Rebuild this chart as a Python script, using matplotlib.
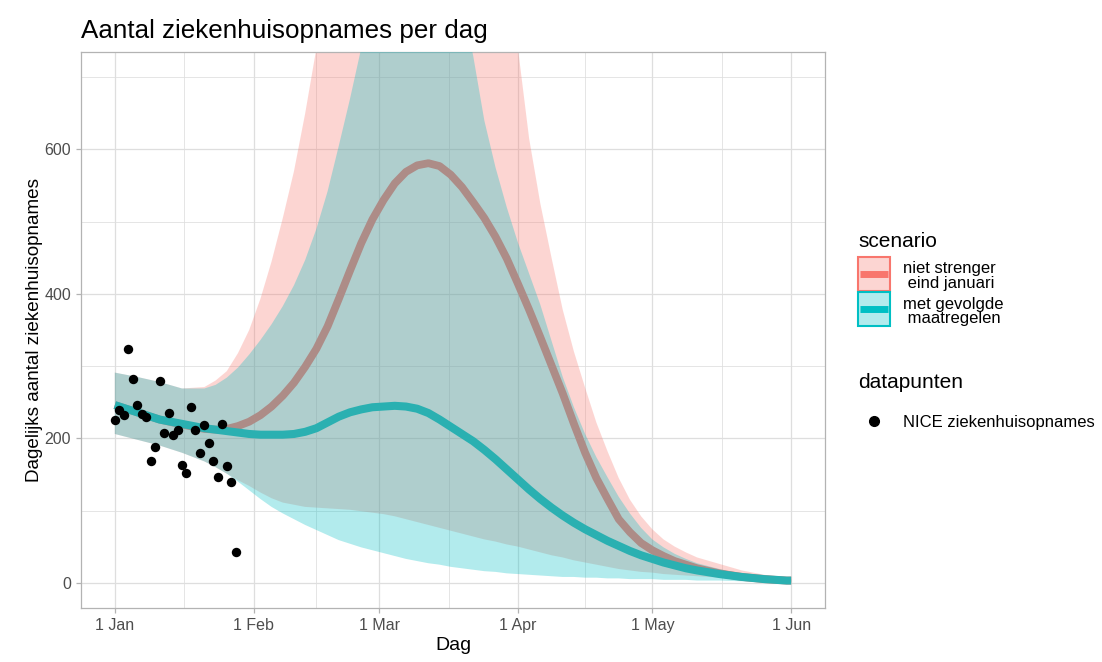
import numpy as np
import matplotlib
matplotlib.use("Agg")
import matplotlib.pyplot as plt
from matplotlib.patches import Patch, Rectangle
from matplotlib.lines import Line2D
from matplotlib.legend_handler import HandlerBase
from matplotlib.colors import to_rgba

plt.rcParams['font.family'] = ['Liberation Sans', 'DejaVu Sans']

# ---------------- data ----------------
start = np.datetime64('2021-01-01')

# NICE observations (days since 1 Jan)
obs_day = list(range(28))
obs_val = [226, 239, 232, 323, 282, 246, 233, 230, 168, 188, 279, 207, 235, 204,
           212, 163, 152, 243, 212, 180, 219, 193, 168, 147, 220, 161, 140, 43]

# model output (days since 1 Jan)
model_day = [0, 5, 10, 15] + [20 + 2.5 * i for i in range(45)] + [135, 140, 145, 150, 151]

red_mid = [246, 236, 226, 219,
           213, 212, 213, 217, 223, 232, 244, 259, 277, 299, 324, 355, 393, 432, 470,
           503, 530, 553, 569, 578, 581, 577, 565, 548, 527, 505, 479, 449, 414, 378,
           340, 301, 262, 220, 180, 145, 116, 88, 70, 55, 45, 37, 30, 25, 20,
           13, 8, 5, 3, 3]
red_lo = [206, 198, 190, 180,
          168, 160, 151, 142, 134, 125, 117, 111, 108, 105, 104, 103, 102, 101, 99,
          97, 95, 92, 88, 84, 80, 76, 72, 68, 64, 60, 57, 53, 50, 46,
          42, 38, 35, 31, 28, 25, 22, 19, 17, 15, 14, 12, 11, 10, 9,
          7, 5, 4, 3, 3]
red_hi = [291, 285, 278, 269,
          271, 280, 293, 318, 350, 393, 445, 505, 570, 650, 740, 820, 900, 970, 1030,
          1080, 1120, 1150, 1160, 1160, 1150, 1120, 1080, 1030, 970, 910, 860, 800, 740, 615,
          525, 450, 378, 320, 270, 222, 182, 145, 115, 92, 74, 60, 50, 42, 35,
          26, 17, 11, 6, 5]

teal_mid = [246, 236, 226, 220,
            214, 212, 210, 208, 206, 205, 205, 205, 206, 209, 214, 222, 230, 236, 240,
            243, 244, 245, 244, 241, 235, 226, 216, 206, 196, 184, 171, 157, 143, 129,
            116, 104, 93, 83, 74, 66, 58, 51, 44, 38, 33, 28, 24, 20, 17,
            12, 8, 5, 3, 3]
teal_lo = [206, 198, 190, 180,
           168, 160, 151, 140, 128, 116, 105, 96, 88, 80, 73, 66, 59, 54, 49,
           45, 41, 37, 33, 30, 27, 25, 22, 20, 18, 16, 15, 13, 12, 11,
           10, 9, 8, 8, 7, 7, 6, 6, 5, 5, 5, 4, 4, 4, 3,
           3, 2, 2, 1, 1]
teal_hi = [291, 285, 278, 269,
           269, 274, 284, 298, 316, 336, 358, 383, 412, 447, 490, 542, 605, 670, 740,
           800, 860, 910, 950, 960, 950, 920, 870, 800, 730, 640, 575, 520, 471, 428,
           385, 335, 285, 243, 206, 174, 146, 119, 96, 76, 60, 49, 40, 33, 27,
           19, 12, 8, 5, 4]

scenario_labels = ['niet strenger\n eind januari', 'met gevolgde\n maatregelen']
points_label = 'NICE ziekenhuisopnames'

tick_dates = ['2021-01-01', '2021-02-01', '2021-03-01', '2021-04-01', '2021-05-01', '2021-06-01']
tick_labels = ['1 Jan', '1 Feb', '1 Mar', '1 Apr', '1 May', '1 Jun']
y_ticks = [0, 200, 400, 600]
y_minor = [100, 300, 500, 700]

# ---------------- style ----------------
RED = '#F8766D'
TEAL = '#00BFC4'
TEAL_LINE = '#2AB0B1'
GRID = '#DEDEDE'
BORDER = '#B3B3B3'
TXT = '#4D4D4D'

W, H = 1102, 662
fig = plt.figure(figsize=(W / 100, H / 100), dpi=100)
ax = fig.add_axes([81 / W, 1 - 608 / H, (825 - 81) / W, (608 - 52) / H])

tick_pos = [int((np.datetime64(d) - start).astype(int)) for d in tick_dates]
x_minor = [(a + b) / 2 for a, b in zip(tick_pos[:-1], tick_pos[1:])]

# grid
for v in y_ticks:
    ax.axhline(v, color=GRID, lw=0.9, zorder=0)
for v in y_minor:
    ax.axhline(v, color=GRID, lw=0.55, zorder=0)
for v in tick_pos:
    ax.axvline(v, color=GRID, lw=0.9, zorder=0)
for v in x_minor:
    ax.axvline(v, color=GRID, lw=0.55, zorder=0)

# ribbons & lines
ax.fill_between(model_day, red_lo, red_hi, color=RED, alpha=0.3, lw=0, zorder=1)
ax.plot(model_day, red_mid, color=RED, lw=5.6, zorder=2, solid_capstyle='butt',
        solid_joinstyle='round')
ax.fill_between(model_day, teal_lo, teal_hi, color=TEAL, alpha=0.3, lw=0, zorder=3)
ax.plot(model_day, teal_mid, color=TEAL_LINE, lw=5.8, zorder=4, solid_capstyle='butt',
        solid_joinstyle='round')
ax.scatter(obs_day, obs_val, s=46, color='black', zorder=5, lw=0)

span = tick_pos[-1] - tick_pos[0]
ax.set_xlim(tick_pos[0] - 0.05 * span, tick_pos[-1] + 0.05 * span)
ax.set_ylim(-35, 735)
ax.set_xticks(tick_pos)
ax.set_xticklabels(tick_labels)
ax.set_yticks(y_ticks)
ax.tick_params(axis='both', colors=BORDER, labelcolor=TXT, labelsize=11.5,
               length=3.6, width=0.9, pad=3.5)
for s in ax.spines.values():
    s.set_color(BORDER)
    s.set_linewidth(0.9)

ax.set_title('Aantal ziekenhuisopnames per dag', loc='left', fontsize=18.7, pad=10)
ax.set_xlabel('Dag', fontsize=14, labelpad=3)
ax.set_ylabel('Dagelijks aantal ziekenhuisopnames', fontsize=13.6, labelpad=1)


# legend key: filled box with coloured border and a thick line through its centre
class RibbonLineKey(HandlerBase):
    def __init__(self, shift=2.2, **kw):
        super().__init__(**kw)
        self.shift = shift

    def create_artists(self, legend, orig_handle, xdescent, ydescent, width, height,
                       fontsize, trans):
        c = orig_handle.get_edgecolor()
        y0 = -ydescent + self.shift
        rect = Rectangle((-xdescent, y0), width, height, facecolor=to_rgba(c, 0.3),
                         edgecolor=c, linewidth=1.5, transform=trans)
        yc = y0 + height / 2
        inset = 1.5
        line = Line2D([-xdescent + inset, -xdescent + width - inset], [yc, yc], color=c,
                      lw=5, solid_capstyle='butt', transform=trans)
        return [rect, line]


h_red = Patch(edgecolor=RED)
h_teal = Patch(edgecolor=TEAL)
leg1 = fig.legend(handles=[h_red, h_teal], labels=scenario_labels, title='scenario',
                  loc='upper left', bbox_to_anchor=(858 / W, 1 - 232 / H),
                  frameon=False, fontsize=12, title_fontsize=15,
                  handlelength=1.92, handleheight=2.76, handletextpad=0.78,
                  labelspacing=0.08, borderpad=0, borderaxespad=0, alignment='left',
                  handler_map={Patch: RibbonLineKey()})
for t in leg1.get_texts():
    t.set_linespacing(0.97)
leg1._legend_box.sep = 6.6

h_pt = Line2D([], [], marker='o', ls='', color='black', markersize=7)
leg2 = fig.legend(handles=[h_pt], labels=[points_label], title='datapunten',
                  loc='upper left', bbox_to_anchor=(858 / W, 1 - 373 / H),
                  frameon=False, fontsize=12, title_fontsize=15,
                  handlelength=1.92, handletextpad=0.78, labelspacing=1.35,
                  borderpad=0, borderaxespad=0, alignment='left')

fig.savefig('out.png', dpi=100)
